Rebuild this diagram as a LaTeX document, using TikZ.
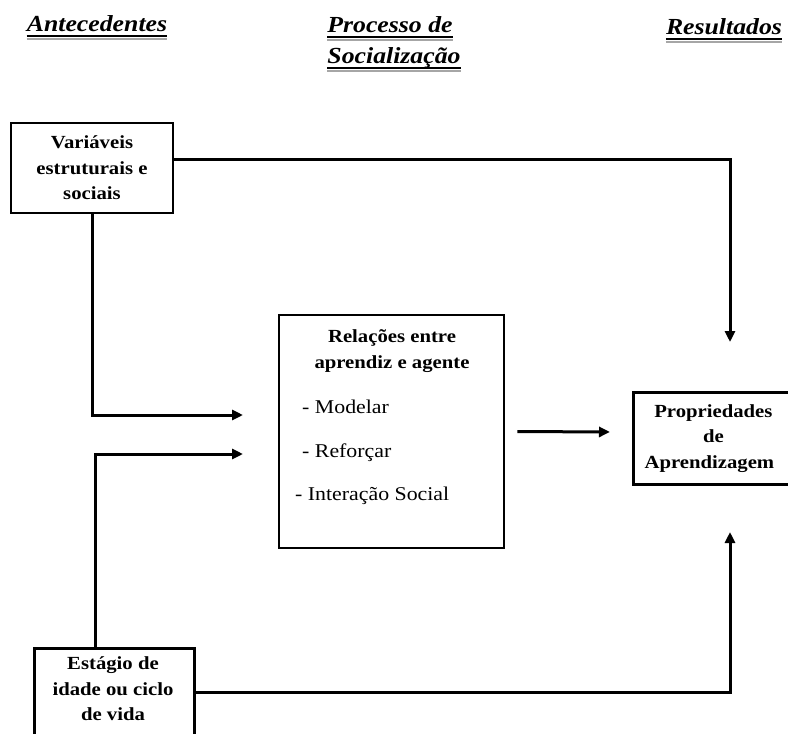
\documentclass[tikz,border=0pt]{standalone}
\usepackage{fontspec}
\setmainfont{Liberation Serif}[FakeStretch=1.12]
\usepackage{tikz}
\usetikzlibrary{arrows.meta}

\begin{document}
\begin{tikzpicture}[x=1pt, y=-1pt,
    box/.style={draw, line width=2.8pt, inner sep=0pt},
    boxtext/.style={align=center, font=\bfseries\fontsize{18.5}{25.5}\selectfont},
    itemtext/.style={anchor=base west, inner sep=0pt, font=\fontsize{19.5}{24}\selectfont},
    heading/.style={anchor=base, inner sep=0pt, font=\bfseries\itshape\fontsize{23}{28}\selectfont},
    rule/.style={line width=2.2pt},
    shaderule/.style={line width=2pt, black!35},
    link/.style={line width=3pt},
    arrow/.style={link, -{Triangle[length=11pt, width=10pt]}}]
    \clip (0,0) rectangle (788,734);
    \fill[white] (0,0) rectangle (788,734);

    % headings
    \node[heading] (ant) at (97, 31) {Antecedentes};
    \node[heading] (proc) at (390, 32) {Processo de};
    \node[heading] (soc) at (394, 63) {Socialização};
    \node[heading] (res) at (724, 34) {Resultados};
    \foreach \h in {ant, proc, soc, res} {
        \draw[shaderule] ([yshift=-7.5pt]\h.base west) -- ([yshift=-7.5pt]\h.base east);
        \draw[rule] ([yshift=-5pt]\h.base west) -- ([yshift=-5pt]\h.base east);
    }

    % antecedents
    \node[box, boxtext, minimum width=162pt, minimum height=90pt] (vars) at (92, 168)
        {Variáveis\\estruturais e\\sociais};
    \node[box, minimum width=160pt, minimum height=98pt, anchor=north west] (stage) at (33, 647) {};
    \node[boxtext] (stagetxt) at (113, 689) {Estágio de\\idade ou ciclo\\de vida};

    % socialization process
    \node[box, minimum width=225pt, minimum height=233pt] (rel) at (391.5, 431.5) {};
    \node[boxtext] (reltitle) at (392, 351) {Relações entre\\aprendiz e agente};
    \node[itemtext] (model) at (302, 413) {- Modelar};
    \node[itemtext] (reinf) at (302, 457) {- Reforçar};
    \node[itemtext] (inter) at (295, 500) {- Interação Social};

    % outcome
    \node[box, boxtext, minimum width=168pt, minimum height=92pt, anchor=north west] (prop) at (632, 391)
        {\hspace*{-8pt}Propriedades\\\hspace*{-8pt}de\\\hspace*{-8pt}Aprendizagem\hspace*{8pt}};

    % arrow ends
    \coordinate (in1) at (243, 415);
    \coordinate (in2) at (243, 454);
    \coordinate (top) at (730, 342);
    \coordinate (bot) at (730, 532);
    \coordinate (mid) at (610, 432);

    % connectors
    \draw[arrow] ([yshift=9pt]vars.east) -| (top);
    \draw[arrow] (vars.south) |- (in1);
    \draw[arrow] ([xshift=-19pt]stage.north) |- (in2);
    \draw[arrow] ([yshift=-45pt]stage.north east) -| (bot);
    \draw[arrow] ([xshift=12pt]rel.east) -- (mid);

\end{tikzpicture}
\end{document}
